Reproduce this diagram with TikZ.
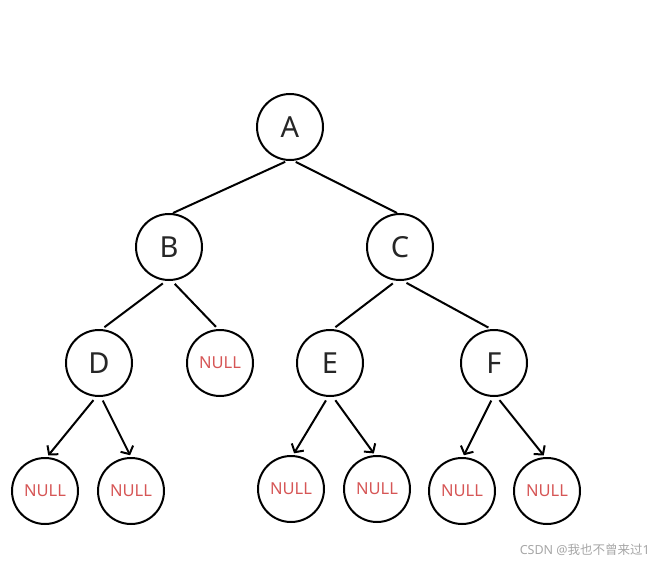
\documentclass[tikz,border=0pt]{standalone}
\usepackage{fontspec}
\setmainfont{Noto Sans}
\newfontfamily\cjkfont{Noto Sans CJK SC}
\usetikzlibrary{arrows.meta}
\definecolor{nullred}{RGB}{214,86,86}

\begin{document}
\begin{tikzpicture}[x=1pt,y=-1pt,
  treenode/.style={draw,circle,line width=2pt,minimum size=66pt,inner sep=0pt,
    text=black!85,font=\fontsize{29}{29}\selectfont},
  nullnode/.style={treenode,text=nullred,font=\fontsize{16.5}{16.5}\selectfont},
  branch/.style={line width=2pt},
  nullarrow/.style={line width=2pt,-{Straight Barb[length=6pt,width=14pt]}}]

% ---------------- page (pixel grid, y grows downwards) ----------------
\useasboundingbox (0,0) rectangle (658,564);

% ---------------- tree nodes ----------------
\node[treenode] (A) at (290,127) {A};
\node[treenode] (B) at (169,247) {B};
\node[treenode] (C) at (400,247) {C};
\node[treenode] (D) at (99,363) {D};
\node[nullnode] (Bnull) at (220,363) {NULL};
\node[treenode] (E) at (330,363) {E};
\node[treenode] (F) at (494,363) {F};

% leaves below D, E and F
\node[nullnode] (Dleft) at (45,491) {NULL};
\node[nullnode] (Dright) at (131,491) {NULL};
\node[nullnode] (Eleft) at (291,489) {NULL};
\node[nullnode] (Eright) at (377,489) {NULL};
\node[nullnode] (Fleft) at (462,491) {NULL};
\node[nullnode] (Fright) at (547,491) {NULL};

% ---------------- plain branches ----------------
\draw[branch,shorten <=2pt] ([xshift=-3pt]A.south) -- ([xshift=4pt]B.north);
\draw[branch,shorten <=2pt] ([xshift=4pt]A.south) -- ([xshift=-3pt]C.north);
\draw[branch,shorten <=4pt,shorten >=3pt] ([xshift=-3pt]B.south) -- ([xshift=3pt]D.north);
\draw[branch,shorten <=4pt,shorten >=3pt] ([xshift=3pt]B.south) -- ([xshift=-2pt]Bnull.north);
\draw[branch,shorten <=4pt,shorten >=3pt] ([xshift=-4pt]C.south) -- ([xshift=3pt]E.north);
\draw[branch,shorten <=4pt,shorten >=3pt] ([xshift=3pt]C.south) -- ([xshift=-3pt]F.north);

% ---------------- arrows to the NULL leaves ----------------
\draw[nullarrow,shorten <=4pt,shorten >=2pt] ([xshift=-3pt]D.south) -- ([xshift=2pt]Dleft.north);
\draw[nullarrow,shorten <=4pt,shorten >=2pt] ([xshift=2pt]D.south) -- (Dright.north);
\draw[nullarrow,shorten <=4pt,shorten >=2pt] ([xshift=-2pt]E.south) -- ([xshift=2pt]Eleft.north);
\draw[nullarrow,shorten <=4pt,shorten >=2pt] ([xshift=3pt]E.south) -- ([xshift=-2pt]Eright.north);
\draw[nullarrow,shorten <=4pt,shorten >=2pt] ([xshift=-1pt]F.south) -- ([xshift=1pt]Fleft.north);
\draw[nullarrow,shorten <=4pt,shorten >=2pt] ([xshift=3pt]F.south) -- ([xshift=-2pt]Fright.north);

% watermark
\node[anchor=east,text=black!35,font=\fontsize{12.5}{12.5}\selectfont,inner sep=0pt]
  (mark) at (650,550) {CSDN @{\cjkfont 我也不曾来过}1};

\end{tikzpicture}
\end{document}
